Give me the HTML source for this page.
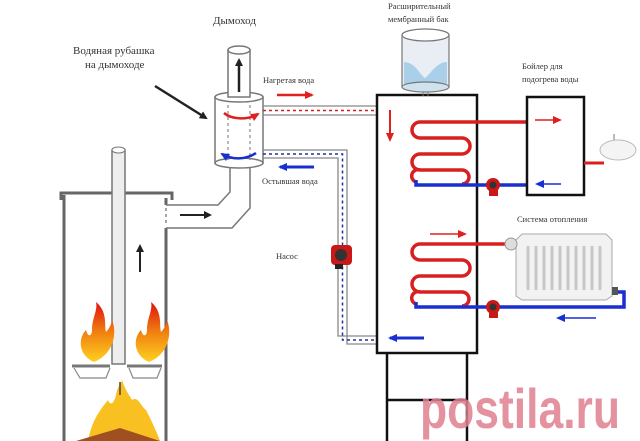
<!DOCTYPE html>
<html><head><meta charset="utf-8"><style>
html,body{margin:0;padding:0;background:#fff;}
svg{display:block;}
text{font-family:"Liberation Serif","Noto Serif CJK SC",serif;fill:#333;}
</style></head><body>
<svg width="640" height="441" viewBox="0 0 640 441" xmlns="http://www.w3.org/2000/svg">
<defs>
<marker id="ak" markerWidth="8" markerHeight="8" refX="6" refY="4" orient="auto" markerUnits="userSpaceOnUse"><path d="M0,0 L8,4 L0,8 Z" fill="#222"/></marker>
<marker id="ar" markerWidth="9" markerHeight="8" refX="7" refY="4" orient="auto" markerUnits="userSpaceOnUse"><path d="M0,0 L9,4 L0,8 Z" fill="#e02020"/></marker>
<marker id="ab" markerWidth="9" markerHeight="8" refX="7" refY="4" orient="auto" markerUnits="userSpaceOnUse"><path d="M0,0 L9,4 L0,8 Z" fill="#1a2fd0"/></marker>
<linearGradient id="fl" x1="0" y1="0" x2="0" y2="1"><stop offset="0" stop-color="#e01010"/><stop offset="0.5" stop-color="#f08010"/><stop offset="1" stop-color="#ffd020"/></linearGradient>
</defs>
<text x="213" y="24" font-size="11">Дымоход</text>
<text x="73" y="54" font-size="11">Водяная рубашка</text>
<text x="85" y="68" font-size="11">на дымоходе</text>
<line x1="155" y1="86" x2="206" y2="118" stroke="#222" stroke-width="2.5" marker-end="url(#ak)"/>
<text x="263" y="83" font-size="8.5">Нагретая вода</text>
<text x="262" y="184" font-size="8.5">Остывшая вода</text>
<text x="276" y="259" font-size="8.5">Насос</text>
<text x="388" y="9" font-size="8.5">Расширительный</text>
<text x="388" y="22" font-size="8.5">мембранный бак</text>
<text x="522" y="69" font-size="8.5">Бойлер для</text>
<text x="522" y="82" font-size="8.5">подогрева воды</text>
<text x="517" y="222" font-size="8.5">Система отопления</text>

<g fill="none" stroke="#666" stroke-width="3">
<path d="M61,200 V193 H172 V200"/>
<path d="M64,195 V441"/>
<path d="M166,198 V205"/>
<path d="M166,228 V441"/>
</g>
<line x1="166" y1="208" x2="166" y2="226" stroke="#888" stroke-width="1.5" stroke-dasharray="3,3"/>
<rect x="112" y="150" width="13" height="214" fill="#eee" stroke="#777" stroke-width="1.5"/>
<ellipse cx="118.5" cy="150" rx="6.5" ry="3" fill="#fff" stroke="#777"/>
<line x1="140" y1="272" x2="140" y2="246" stroke="#222" stroke-width="2" marker-end="url(#ak)"/>
<path d="M72,366 H110 M127,366 H162" stroke="#777" stroke-width="3"/>
<path d="M74,368 L80,378 H106 L110,368 M129,368 L133,378 H157 L161,368" fill="none" stroke="#888" stroke-width="1.2"/>
<path d="M94,362 C78,355 78,338 86,330 C88,338 92,336 92,330 C92,318 98,310 96,302 C108,312 104,325 106,332 C110,328 112,322 112,320 C118,335 112,355 94,362 Z" fill="url(#fl)"/>
<path d="M149,362 C133,355 133,338 141,330 C143,338 147,336 147,330 C147,318 153,310 151,302 C163,312 159,325 161,332 C165,328 167,322 167,320 C173,335 167,355 149,362 Z" fill="url(#fl)"/>
<path d="M88,441 C92,420 100,410 108,400 C110,406 114,404 116,395 C118,385 120,386 122,380 C126,392 130,396 132,400 C138,396 140,405 146,410 C150,418 156,430 160,441 Z" fill="#f8c020"/>
<path d="M76,441 L120,428 L160,441 Z" fill="#a05020"/>
<path d="M120,382 V395" stroke="#444" stroke-width="1.5"/>

<path d="M166,205 H218 L230,192 V165 M166,228 H232 L250,208 V165" fill="#fff" stroke="#777" stroke-width="1.5"/>
<path d="M180,215 H210" stroke="#222" stroke-width="2" marker-end="url(#ak)"/>
<rect x="215" y="97" width="48" height="66" fill="#fff" stroke="#777" stroke-width="1.5"/>
<ellipse cx="239" cy="97" rx="24" ry="5" fill="#fff" stroke="#777" stroke-width="1.5"/>
<ellipse cx="239" cy="163" rx="24" ry="5" fill="#fff" stroke="#777" stroke-width="1.5"/>
<path d="M228,105 V160 M250,105 V160" stroke="#888" stroke-width="1.2" stroke-dasharray="3,3"/>
<rect x="228" y="50" width="22" height="47" fill="#fff" stroke="#777" stroke-width="1.5"/>
<ellipse cx="239" cy="50" rx="11" ry="4" fill="#fff" stroke="#777" stroke-width="1.5"/>
<line x1="239" y1="92" x2="239" y2="60" stroke="#222" stroke-width="2.5" marker-end="url(#ak)"/>
<path d="M224,113 C232,120 248,120 258,114" fill="none" stroke="#e02020" stroke-width="2.5" marker-end="url(#ar)"/>
<path d="M256,153 C246,160 232,160 222,154" fill="none" stroke="#1a2fd0" stroke-width="2.5" marker-end="url(#ab)"/>

<path d="M263,106 H378 M263,115 H378" stroke="#888" stroke-width="1.3"/>
<path d="M263,110.5 H378" stroke="#d02020" stroke-width="1.5" stroke-dasharray="3,3"/>
<line x1="277" y1="95" x2="312" y2="95" stroke="#e02020" stroke-width="2.5" marker-end="url(#ar)"/>
<path d="M263,150 H347 V344 H378 M263,158 H338 V336 H378" fill="none" stroke="#888" stroke-width="1.3"/>
<path d="M263,154 H342.5 V340 H378" fill="none" stroke="#2030b0" stroke-width="1.5" stroke-dasharray="3,3"/>
<line x1="314" y1="167" x2="280" y2="167" stroke="#1a2fd0" stroke-width="3" marker-end="url(#ab)"/>
<rect x="331" y="245" width="21" height="20" rx="4" fill="#c81818"/>
<circle cx="341" cy="255" r="6" fill="#333"/>
<rect x="335" y="264" width="8" height="5" fill="#222"/>

<rect x="377" y="95" width="100" height="258" fill="none" stroke="#111" stroke-width="2.5"/>
<path d="M387,353 V441 M467,353 V441 M387,400 H467" stroke="#111" stroke-width="2.5"/>
<line x1="390" y1="110" x2="390" y2="140" stroke="#e02020" stroke-width="2" marker-end="url(#ar)"/>
<line x1="424" y1="338" x2="390" y2="338" stroke="#1a2fd0" stroke-width="3" marker-end="url(#ab)"/>
<rect x="402" y="35" width="47" height="52" fill="#e8eef4" stroke="#777" stroke-width="1.2"/>
<ellipse cx="425.5" cy="35" rx="23.5" ry="6" fill="#fff" stroke="#777" stroke-width="1.2"/>
<path d="M404,62 C415,62 420,75 425,78 C430,75 436,62 447,62 V85 H404 Z" fill="#a9d0e8"/>
<ellipse cx="425.5" cy="87" rx="23.5" ry="5" fill="#cfe3ef" stroke="#777" stroke-width="1.2"/>
<path d="M423,92 V96 M428,92 V96" stroke="#777"/>

<path d="M527,122 H420 A6,6 0 0 0 420,138 H462 A6,6 0 0 1 462,154 H420 A6,6 0 0 0 420,170 H462 A6,6 0 0 1 462,184" fill="none" stroke="#d82020" stroke-width="3.5"/>
<path d="M420,170 A6,6 0 0 0 416,182" fill="none" stroke="#d82020" stroke-width="3.5"/>
<path d="M416,180 V185 H527" fill="none" stroke="#1a2fd0" stroke-width="3.5"/>
<rect x="527" y="97" width="57" height="98" fill="none" stroke="#111" stroke-width="2.5"/>
<line x1="535" y1="120" x2="560" y2="120" stroke="#e02020" stroke-width="1.5" marker-end="url(#ar)"/>
<line x1="561" y1="184" x2="537" y2="184" stroke="#1a2fd0" stroke-width="1.5" marker-end="url(#ab)"/>
<path d="M584,163 H604" stroke="#d82020" stroke-width="3"/>
<ellipse cx="618" cy="150" rx="18" ry="10" fill="#f4f4f4" stroke="#bbb"/>
<path d="M614,140 V134" stroke="#bbb" stroke-width="2"/>
<circle cx="493" cy="185" r="7" fill="#c81818"/>
<circle cx="493" cy="185" r="3.5" fill="#333"/>
<rect x="489" y="190" width="9" height="6" fill="#c81818"/>

<path d="M505,244 H420 A6,6 0 0 0 420,260 H462 A6,6 0 0 1 462,276 H420 A6,6 0 0 0 420,292 H462 A6,6 0 0 1 462,306" fill="none" stroke="#d82020" stroke-width="3.5"/>
<path d="M420,292 A6,6 0 0 0 416,304" fill="none" stroke="#d82020" stroke-width="3.5"/>
<path d="M416,302 V307 H624 V292 H614" fill="none" stroke="#1a2fd0" stroke-width="3.5"/>
<line x1="430" y1="234" x2="465" y2="234" stroke="#e02020" stroke-width="1.5" marker-end="url(#ar)"/>
<line x1="596" y1="318" x2="558" y2="318" stroke="#1a2fd0" stroke-width="1.5" marker-end="url(#ab)"/>
<circle cx="493" cy="307" r="7" fill="#c81818"/>
<circle cx="493" cy="307" r="3.5" fill="#333"/>
<rect x="489" y="312" width="9" height="6" fill="#c81818"/>
<path d="M516,240 L522,234 H606 L612,240 V296 L606,300 H522 L516,296 Z" fill="#f2f2f2" stroke="#aaa"/>
<g stroke="#c8c8c8" stroke-width="3">
<path d="M528,246 V290 M536,246 V290 M544,246 V290 M552,246 V290 M560,246 V290 M568,246 V290 M576,246 V290 M584,246 V290 M592,246 V290 M600,246 V290"/>
</g>
<circle cx="511" cy="244" r="6" fill="#ddd" stroke="#999"/>
<rect x="612" y="287" width="6" height="8" fill="#555"/>

<text x="420" y="428" font-size="56" font-weight="bold" textLength="200" lengthAdjust="spacingAndGlyphs" style="fill:#e08090;font-family:'Liberation Sans',sans-serif" opacity="0.85">postila.ru</text>
</svg>
</body></html>
